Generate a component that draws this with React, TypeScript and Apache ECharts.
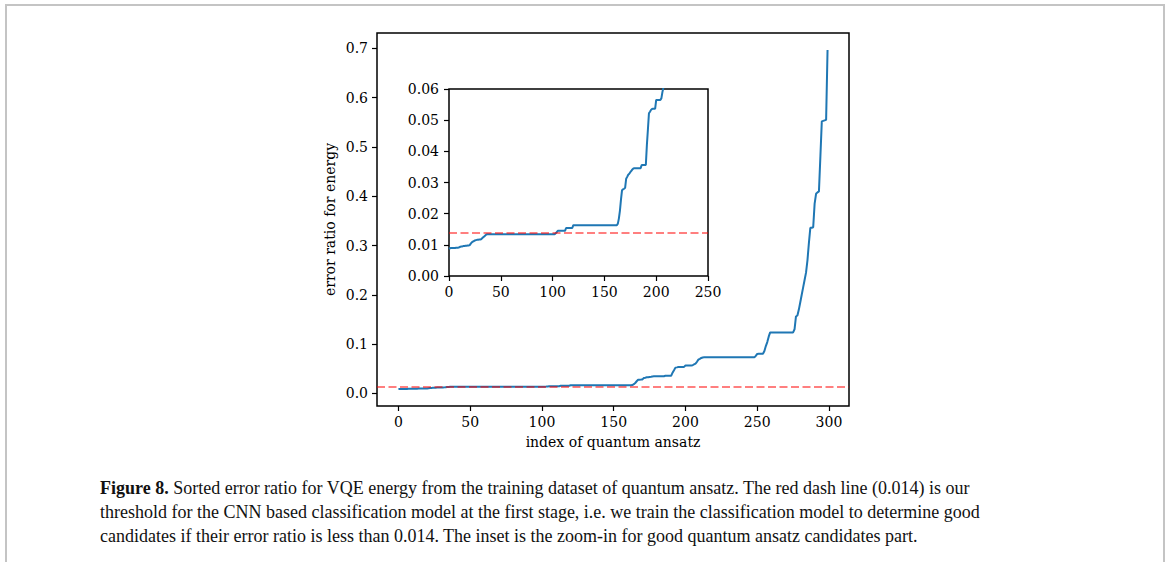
import React, { useEffect, useRef } from "react";
import * as echarts from "echarts";

// Sorted error ratio for each quantum ansatz (index 0..299)
const errorRatio: number[] = [
  0.0087, 0.0089, 0.0090, 0.0090, 0.0090, 0.0090, 0.0090, 0.0091, 0.0091, 0.0091,
  0.0092, 0.0094, 0.0095, 0.0095, 0.0096, 0.0096, 0.0097, 0.0097, 0.0098, 0.0098,
  0.0099, 0.0104, 0.0108, 0.0110, 0.0112, 0.0114, 0.0115, 0.0116, 0.0116, 0.0117,
  0.0117, 0.0118, 0.0121, 0.0124, 0.0127, 0.0130, 0.0133, 0.0134, 0.0134, 0.0134,
  0.0134, 0.0134, 0.0134, 0.0134, 0.0134, 0.0134, 0.0134, 0.0134, 0.0134, 0.0134,
  0.0134, 0.0134, 0.0134, 0.0134, 0.0134, 0.0134, 0.0134, 0.0134, 0.0134, 0.0134,
  0.0134, 0.0134, 0.0134, 0.0134, 0.0134, 0.0134, 0.0134, 0.0134, 0.0134, 0.0134,
  0.0134, 0.0134, 0.0134, 0.0134, 0.0134, 0.0134, 0.0134, 0.0134, 0.0134, 0.0134,
  0.0134, 0.0134, 0.0134, 0.0134, 0.0134, 0.0134, 0.0134, 0.0134, 0.0134, 0.0134,
  0.0134, 0.0134, 0.0134, 0.0134, 0.0134, 0.0134, 0.0134, 0.0134, 0.0134, 0.0134,
  0.0134, 0.0134, 0.0134, 0.0137, 0.0141, 0.0145, 0.0145, 0.0145, 0.0145, 0.0145,
  0.0145, 0.0145, 0.0145, 0.0154, 0.0154, 0.0154, 0.0154, 0.0154, 0.0154, 0.0154,
  0.0163, 0.0163, 0.0163, 0.0163, 0.0163, 0.0163, 0.0163, 0.0163, 0.0163, 0.0163,
  0.0163, 0.0163, 0.0163, 0.0163, 0.0163, 0.0163, 0.0163, 0.0163, 0.0163, 0.0163,
  0.0163, 0.0163, 0.0163, 0.0163, 0.0163, 0.0163, 0.0163, 0.0163, 0.0163, 0.0163,
  0.0163, 0.0163, 0.0163, 0.0163, 0.0163, 0.0163, 0.0163, 0.0163, 0.0163, 0.0163,
  0.0163, 0.0163, 0.0163, 0.0168, 0.0185, 0.0210, 0.0245, 0.0275, 0.0278, 0.0280,
  0.0283, 0.0312, 0.0318, 0.0325, 0.0328, 0.0333, 0.0337, 0.0342, 0.0345, 0.0346,
  0.0346, 0.0346, 0.0346, 0.0346, 0.0346, 0.0346, 0.0356, 0.0356, 0.0356, 0.0356,
  0.0356, 0.0420, 0.0470, 0.0522, 0.0527, 0.0533, 0.0536, 0.0537, 0.0537, 0.0537,
  0.0565, 0.0565, 0.0565, 0.0565, 0.0565, 0.0570, 0.0590, 0.0605, 0.0640, 0.0683,
  0.0700, 0.0718, 0.0728, 0.0730, 0.0730, 0.0730, 0.0730, 0.0730, 0.0730, 0.0730,
  0.0730, 0.0730, 0.0730, 0.0730, 0.0730, 0.0730, 0.0730, 0.0730, 0.0730, 0.0730,
  0.0730, 0.0730, 0.0730, 0.0730, 0.0730, 0.0730, 0.0730, 0.0730, 0.0730, 0.0730,
  0.0730, 0.0730, 0.0730, 0.0730, 0.0730, 0.0730, 0.0730, 0.0730, 0.0730, 0.0760,
  0.0800, 0.0805, 0.0805, 0.0805, 0.0805, 0.0860, 0.0960, 0.1040, 0.1150, 0.1237,
  0.1237, 0.1237, 0.1237, 0.1237, 0.1237, 0.1237, 0.1237, 0.1237, 0.1237, 0.1237,
  0.1237, 0.1237, 0.1237, 0.1237, 0.1237, 0.1237, 0.1300, 0.1560, 0.1580, 0.1700,
  0.1850, 0.2000, 0.2150, 0.2300, 0.2450, 0.2700, 0.3050, 0.3360, 0.3360, 0.3370,
  0.3850, 0.4050, 0.4080, 0.4100, 0.4800, 0.5520, 0.5530, 0.5540, 0.5550, 0.6970,
];

const threshold = 0.014;

const mainXTicks = [0, 50, 100, 150, 200, 250, 300];
const mainYTicks = [0, 0.1, 0.2, 0.3, 0.4, 0.5, 0.6, 0.7];
const insetXTicks = [0, 50, 100, 150, 200, 250];
const insetYTicks = [0, 0.01, 0.02, 0.03, 0.04, 0.05, 0.06];

const xAxisTitle = "index of quantum ansatz";
const yAxisTitle = "error ratio for energy";

const captionLines = [
  "{b|Figure 8.} Sorted error ratio for VQE energy from the training dataset of quantum ansatz. The red dash line (0.014) is our",
  "threshold for the CNN based classification model at the first stage, i.e. we train the classification model to determine good",
  "candidates if their error ratio is less than 0.014. The inset is the zoom-in for good quantum ansatz candidates part.",
];

const FONT = "DejaVu Serif";
const CAP_FONT = "Liberation Serif";

export default function App() {
  const ref = useRef<HTMLDivElement>(null);

  useEffect(() => {
    if (!ref.current) return;
    const chart = echarts.init(ref.current, undefined, { renderer: "svg" });
    const seriesData = errorRatio.map((v, i) => [i, v]);
    const labelStyle = { fontFamily: FONT, fontSize: 14, color: "#000" };
    const tickStyle = { show: true, inside: false, length: 5, lineStyle: { color: "#000", width: 1.2 } };
    const noLine = { show: false, onZero: false };

    const dataMin = Math.min(...errorRatio);
    const dataMax = Math.max(...errorRatio);
    const yPad = (dataMax - dataMin) * 0.05;
    const xPad = (errorRatio.length - 1) * 0.05;

    const threshLine = {
      symbol: "none", silent: true, precision: 6, label: { show: false },
      lineStyle: { color: "rgba(255,0,0,0.5)", width: 1.8, type: [8, 3.5] },
      data: [{ yAxis: threshold }],
    };

    const option: any = {
      animation: false,
      backgroundColor: "#fff",
      grid: [
        { left: 377, top: 33, width: 472, height: 373, show: true, borderColor: "#000", borderWidth: 1.5, backgroundColor: "transparent" },
        { left: 449, top: 89, width: 259, height: 187, show: true, borderColor: "#000", borderWidth: 1.5, backgroundColor: "#fff", z: 3 },
      ],
      xAxis: [
        {
          type: "value", gridIndex: 0, min: -xPad, max: errorRatio.length - 1 + xPad,
          splitLine: { show: false }, axisLine: noLine,
          axisTick: { ...tickStyle, customValues: mainXTicks },
          axisLabel: { ...labelStyle, margin: 9, customValues: mainXTicks, formatter: (v: number) => String(v) },
          name: xAxisTitle, nameLocation: "middle", nameGap: 29,
          nameTextStyle: { fontFamily: FONT, fontSize: 14, color: "#000" },
        },
        {
          type: "value", gridIndex: 1, min: 0, max: 250, interval: 50,
          splitLine: { show: false }, axisLine: noLine,
          axisTick: { ...tickStyle, customValues: insetXTicks },
          axisLabel: { ...labelStyle, margin: 9, customValues: insetXTicks, formatter: (v: number) => String(v) },
        },
      ],
      yAxis: [
        {
          type: "value", gridIndex: 0, min: dataMin - yPad, max: dataMax + yPad,
          splitLine: { show: false }, axisLine: noLine,
          axisTick: { ...tickStyle, customValues: mainYTicks },
          axisLabel: { ...labelStyle, margin: 9, customValues: mainYTicks, formatter: (v: number) => v.toFixed(1) },
          name: yAxisTitle, nameLocation: "middle", nameGap: 40, nameRotate: 90,
          nameTextStyle: { fontFamily: FONT, fontSize: 14, color: "#000" },
        },
        {
          type: "value", gridIndex: 1, min: 0, max: 0.06, interval: 0.01,
          splitLine: { show: false }, axisLine: noLine,
          axisTick: { ...tickStyle, customValues: insetYTicks },
          axisLabel: { ...labelStyle, margin: 10, customValues: insetYTicks, formatter: (v: number) => v.toFixed(2) },
        },
      ],
      series: [
        {
          type: "line", xAxisIndex: 0, yAxisIndex: 0, data: seriesData, showSymbol: false, symbol: "none",
          lineStyle: { color: "#1f77b4", width: 2 }, clip: true, silent: true,
          markLine: threshLine,
        },
        {
          type: "line", xAxisIndex: 1, yAxisIndex: 1, data: seriesData, showSymbol: false, symbol: "none",
          lineStyle: { color: "#1f77b4", width: 2 }, clip: true, silent: true, z: 4,
          markLine: threshLine,
        },
      ],
      graphic: [
        {
          type: "polyline",
          shape: { points: [[6, 562], [6, 5], [1164, 5], [1164, 562]] },
          style: { stroke: "#c4c4c4", lineWidth: 2, fill: "none" },
          silent: true,
        },
        ...captionLines.map((t, k) => ({
          type: "text",
          left: 100,
          top: 479 + k * 24,
          silent: true,
          style: {
            text: t,
            fontFamily: CAP_FONT,
            fontSize: 18,
            fill: "#111",
            rich: { b: { fontFamily: CAP_FONT, fontSize: 18, fontWeight: "bold", fill: "#111" } },
          },
        })),
      ],
    };
    chart.setOption(option);
    return () => chart.dispose();
  }, []);

  return (
    <div
      ref={ref}
      style={{ position: "absolute", left: 0, top: 0, width: 1170, height: 562 }}
    />
  );
}
